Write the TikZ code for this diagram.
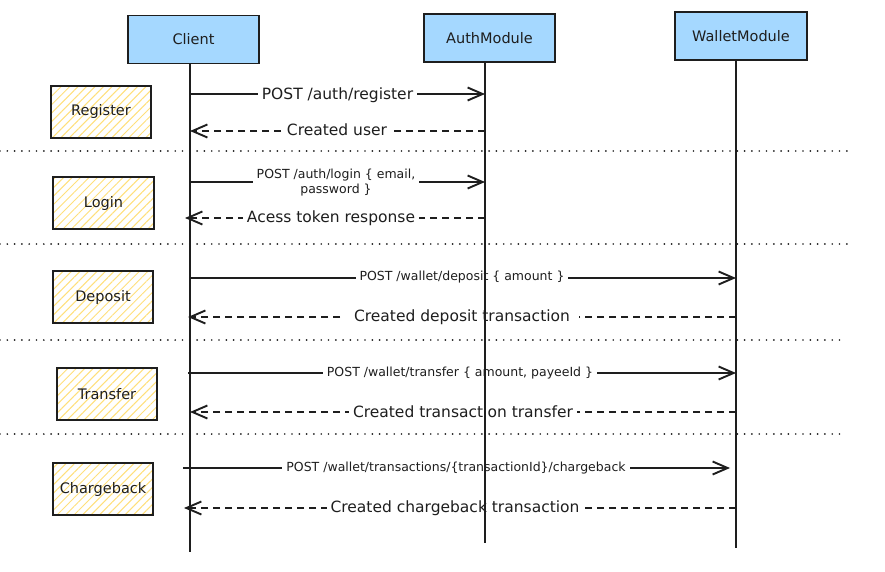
\documentclass[tikz,border=0pt]{standalone}
\usepackage{fontspec}
\setmainfont{DejaVu Sans}
\usetikzlibrary{arrows.meta,patterns.meta}
\definecolor{ink}{HTML}{1E1E1E}
\definecolor{lifeblue}{HTML}{A5D8FF}
\definecolor{hatch}{HTML}{FFDF7A}
\begin{document}
\begin{tikzpicture}[x=1pt,y=-1pt,
  actor/.style={draw=ink, line width=1.4pt, fill=lifeblue, minimum width=131pt, minimum height=48pt, inner sep=0pt, text=ink, font=\fontsize{14.5}{16}\selectfont},
  phase/.style={draw=ink, line width=1.4pt, pattern={Lines[angle=45,distance=6pt,line width=1pt]}, pattern color=hatch, minimum width=100pt, minimum height=52pt, inner sep=0pt, text=ink, font=\fontsize{14.5}{16}\selectfont},
  lifeline/.style={draw=ink, line width=2pt},
  msg/.style={draw=ink, line width=1.9pt, -{Straight Barb[length=15pt,width=13pt]}},
  reply/.style={msg, dash pattern=on 7pt off 5pt},
  sep/.style={draw=ink, line width=1.9pt, line cap=round, dash pattern=on 0pt off 7.3pt},
  lbl/.style={fill=white, inner xsep=4pt, inner ysep=1pt, text=ink, font=\fontsize{15.5}{18}\selectfont},
  lblsm/.style={lbl, align=center, font=\fontsize{12.5}{15}\selectfont}
]
\useasboundingbox (0,0) rectangle (885,572);

% actors
\node[actor] (client) at (193.5,39.5) {Client};
\node[actor] (auth) at (489.5,38) {AuthModule};
\node[actor, minimum width=132pt] (wallet) at (741,36) {WalletModule};
\coordinate (cEnd) at (190,552);
\coordinate (aEnd) at (485,543);
\coordinate (wEnd) at (736,548);

% phases
\node[phase] (register) at (101,112) {Register};
\node[phase, minimum width=101pt] (login) at (103.5,203) {Login};
\node[phase] (deposit) at (103,297) {Deposit};
\node[phase] (transfer) at (107,394) {Transfer};
\node[phase] (chargeback) at (103,489) {Chargeback};

% separators
\coordinate (s1a) at (0,151); \coordinate (s1b) at (848,151);
\coordinate (s2a) at (0,244); \coordinate (s2b) at (848,244);
\coordinate (s3a) at (0,340); \coordinate (s3b) at (843,340);
\coordinate (s4a) at (0,434); \coordinate (s4b) at (845,434);
\draw[sep] (s1a) -- (s1b);
\draw[sep] (s2a) -- (s2b);
\draw[sep] (s3a) -- (s3b);
\draw[sep] (s4a) -- (s4b);

% message endpoints
\coordinate (m1a) at (190,94);  \coordinate (m1b) at (485,94);
\coordinate (m2a) at (485,131); \coordinate (m2b) at (190,131);
\coordinate (m3a) at (190,182); \coordinate (m3b) at (485,182);
\coordinate (m4a) at (485,218); \coordinate (m4b) at (185,218);
\coordinate (m5a) at (190,278); \coordinate (m5b) at (736,278);
\coordinate (m6a) at (736,317); \coordinate (m6b) at (188,317);
\coordinate (m7a) at (188,373); \coordinate (m7b) at (736,373);
\coordinate (m8a) at (736,412); \coordinate (m8b) at (190,412);
\coordinate (m9a) at (183,468); \coordinate (m9b) at (730,468);
\coordinate (m10a) at (736,508); \coordinate (m10b) at (184,508);

\draw[msg] (m1a) -- (m1b);
\draw[reply] (m2a) -- (m2b);
\draw[msg] (m3a) -- (m3b);
\draw[reply] (m4a) -- (m4b);
\draw[msg] (m5a) -- (m5b);
\draw[reply] (m6a) -- (m6b);
\draw[msg] (m7a) -- (m7b);
\draw[reply] (m8a) -- (m8b);
\draw[msg] (m9a) -- (m9b);
\draw[reply] (m10a) -- (m10b);

% labels
\node[lbl] (l1) at (337.5,95) {POST /auth/register};
\node[lbl] (l2) at (337,130) {Created user};
\node[lblsm] (l3) at (336,183) {POST /auth/login \{ email,\\password \}};
\node[lbl] (l4) at (331,218) {Acess token response};
\node[lblsm] (l5) at (462,277) {POST /wallet/deposit \{ amount \}};
\node[lbl, inner xsep=9pt] (l6) at (462,317) {Created deposit transaction};
\node[lblsm] (l7) at (460,373) {POST /wallet/transfer \{ amount, payeeId \}};
\node[lbl] (l8) at (463,412) {Created transaction transfer};
\node[lblsm] (l9) at (456,468) {POST /wallet/transactions/\{transactionId\}/chargeback};
\node[lbl] (l10) at (455,508) {Created chargeback transaction};

% lifelines
\draw[lifeline] (client.south -| cEnd) -- (cEnd);
\draw[lifeline] (auth.south -| aEnd) -- (aEnd);
\draw[lifeline] (wallet.south -| wEnd) -- (wEnd);
\end{tikzpicture}
\end{document}
